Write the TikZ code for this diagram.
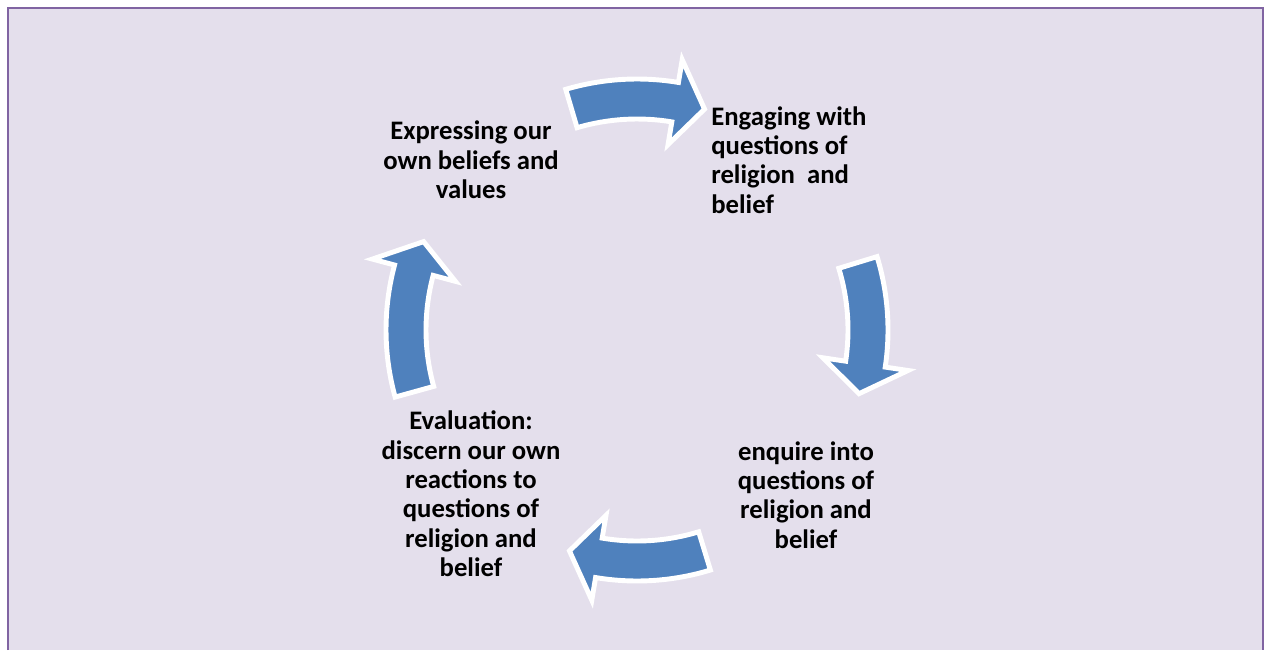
\documentclass[tikz,border=0pt]{standalone}
\usepackage{fontspec}
\setmainfont{Carlito}
\usetikzlibrary{positioning, calc}
\definecolor{cycleblue}{HTML}{4F81BD}
\definecolor{cyclebg}{HTML}{E4DFEC}
\definecolor{cycleframe}{HTML}{8064A2}

% curved block arrow round (hub): #1 tail angle, #2 head base angle, #3 tip angle
\newcommand{\cyclearrow}[3]{%
  \filldraw[blockarrow] ($(hub)+(#1:251)$) arc[start angle=#1, end angle=#2, radius=251]
    -- ($(hub)+(#2:274)$) -- ($(hub)+(#3:231)$) -- ($(hub)+(#2:188)$)
    -- ($(hub)+(#2:211)$) arc[start angle=#2, end angle=#1, radius=211] -- cycle;}

\begin{document}
\begin{tikzpicture}[
    x=0.02cm, y=0.02cm,
    stage/.style={inner sep=0pt, align=center, font=\fontsize{15.2}{16.7}\selectfont\bfseries},
    blockarrow/.style={fill=cycleblue, draw=white, line width=2.8pt, line join=miter},
    framed/.style={draw=cycleframe, line width=1.2pt}
]
\useasboundingbox (0,0) rectangle (1266,650);

% Background
\fill[cyclebg] (8,0) rectangle (1263,642);
\draw[framed] (8,0) |- (1263,642) -- (1263,0);

\coordinate (hub) at (637,320);

% Nodes
\node[stage] (express) at ($(hub)+(-166,170)$) {Expressing our\\own beliefs and\\values};
\node[stage, anchor=west, align=left] (engage) at ($(hub)+(74,170)$) {Engaging with\\questions of\\religion\ \ and\\belief};
\node[stage] (enquire) at ($(hub)+(169,-165)$) {enquire into\\questions of\\religion and\\belief};
\node[stage] (evaluate) at ($(hub)+(-166,-164)$) {Evaluation:\\discern our own\\reactions to\\questions of\\religion and\\belief};

% Arrows
\cyclearrow{106.5}{80.5}{73}
\cyclearrow{17}{-8.5}{-16}
\cyclearrow{-73}{-99.5}{-107}
\cyclearrow{195.5}{165}{157.5}

\end{tikzpicture}
\end{document}
